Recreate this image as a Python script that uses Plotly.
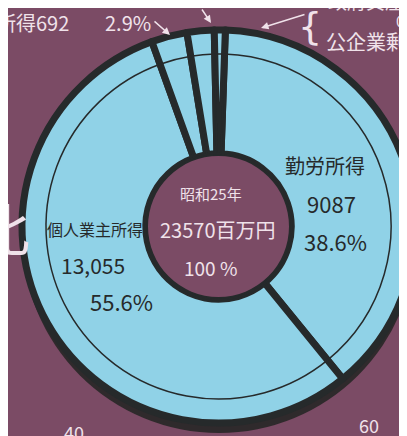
import plotly.graph_objects as go

# Data (昭和25年, 百万円)
categories = ["勤労所得", "個人業主所得", "財産所得", "法人所得", "公企業剰余"]
values = [9087, 13055, 692, 524, 212]
total_label = "23570百万円"

BG = "#7b4b65"
BLUE = "#90d2e7"
DARK = "#262a2b"
LIGHT = "#f0e2ea"
JP = "Noto Sans CJK JP"

W, H = 407, 436

def px_x(x):
    return x / W

def px_y(y):
    return 1 - y / H

fig = go.Figure()

# main donut (center 210.5, 218.5; radius 196.5)
fig.add_trace(go.Pie(
    labels=categories, values=values, sort=False, direction="clockwise",
    rotation=2, hole=0.37,
    domain=dict(x=[px_x(14), 1.0], y=[px_y(415), px_y(22)]),
    marker=dict(colors=[BLUE] * len(values), line=dict(color=DARK, width=7)),
    textinfo="none", hoverinfo="skip", showlegend=False,
))

# thin inner ring line
fig.add_trace(go.Pie(
    labels=categories, values=values, sort=False, direction="clockwise",
    rotation=2, hole=0.424,
    domain=dict(x=[px_x(38), px_x(383)], y=[px_y(391), px_y(46)]),
    marker=dict(colors=["rgba(0,0,0,0)"] * len(values), line=dict(color=DARK, width=1.5)),
    textinfo="none", hoverinfo="skip", showlegend=False,
))

# dark shadow under the rim (bottom)
fig.add_shape(type="circle", xref="paper", yref="paper", layer="below",
              x0=px_x(14), x1=px_x(408), y0=px_y(425), y1=px_y(30),
              fillcolor="#2f2a2c", line=dict(width=0))
# hole background
fig.add_shape(type="circle", xref="paper", yref="paper", layer="above",
              x0=px_x(210.5 - 70.5), x1=px_x(210.5 + 70.5),
              y0=px_y(218.5 + 70.5), y1=px_y(218.5 - 70.5),
              fillcolor=BG, line=dict(width=0))

ann = []

def txt(x, y, s, size, color, xanchor="center", family=JP):
    ann.append(dict(x=px_x(x), y=px_y(y), xref="paper", yref="paper", text=s,
                    showarrow=False, xanchor=xanchor, yanchor="middle",
                    font=dict(size=size, color=color, family=family)))

# center
txt(203, 185, "昭和25年", 15, LIGHT)
txt(210, 221, total_label, 20, LIGHT)
txt(202, 259, "100 %", 19, LIGHT)

# 勤労所得
txt(317, 157, categories[0], 20, DARK)
txt(323, 195, f"{values[0]}", 22, DARK)
txt(327, 233, "38.6%", 22, DARK)

# 個人業主所得
txt(87, 221, categories[1], 16, DARK)
txt(85, 257, "13,055", 21, DARK)
txt(113, 293, "55.6%", 22, DARK)

# top-left cut-off label
txt(63, 15, "財産所得692", 20, LIGHT, xanchor="right")
txt(95, 15, "2.9%", 20, LIGHT, xanchor="left")

# top-right cut-off labels
txt(318, -8, "政府資産所得", 19, LIGHT, xanchor="left")
txt(386, 13, "0.9%", 15, LIGHT, xanchor="left")
txt(316, 33, "公企業剰余", 20, LIGHT, xanchor="left")
txt(302, 18, "{", 38, LIGHT, family="DejaVu Sans")

# side and bottom marks
txt(-6, 218, "比", 56, LIGHT)
txt(66, 424, "40", 18, LIGHT)
txt(361, 417, "60", 18, LIGHT)

# arrows
def arrow(x0, y0, x1, y1):
    ann.append(dict(x=px_x(x1), y=px_y(y1), xref="paper", yref="paper",
                    ax=x0 - x1, ay=y0 - y1, axref="pixel", ayref="pixel",
                    text="", showarrow=True, arrowhead=2, arrowsize=1,
                    arrowwidth=1.5, arrowcolor=LIGHT))

arrow(145, 12, 162, 27)
arrow(193, 0, 203, 15)
arrow(298, 6, 253, 20)

fig.update_layout(
    width=W, height=H, margin=dict(l=0, r=0, t=0, b=0),
    paper_bgcolor=BG, plot_bgcolor=BG,
    annotations=ann,
)

fig.write_html("out.html")
